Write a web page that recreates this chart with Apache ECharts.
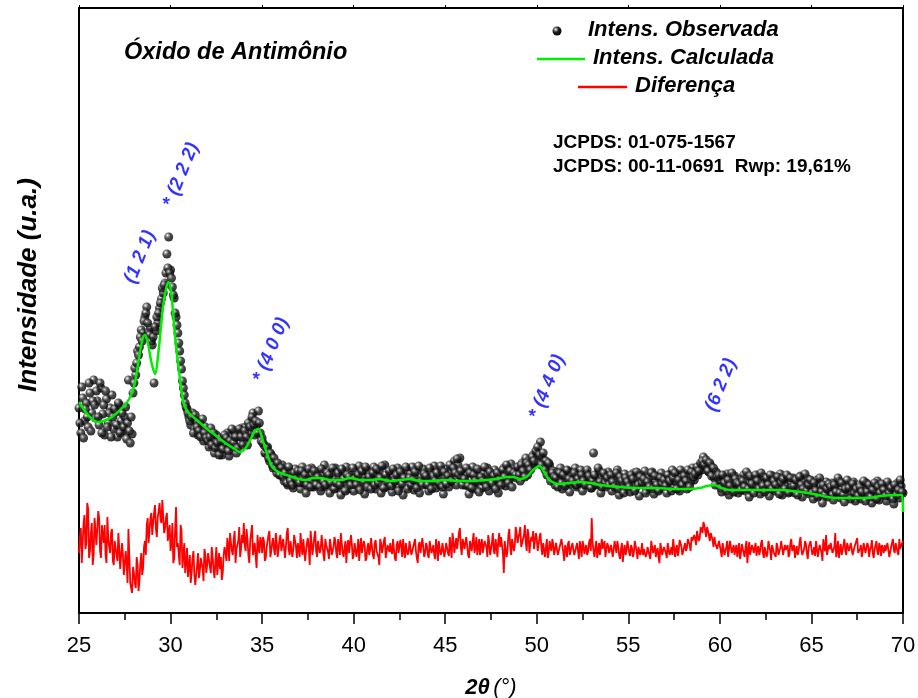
<!DOCTYPE html>
<html>
<head>
<meta charset="utf-8">
<script src="https://cdn.jsdelivr.net/npm/echarts@6/dist/echarts.min.js"></script>
<style>
html,body{margin:0;padding:0;background:#fff;}
#chart{width:918px;height:698px;}
</style>
</head>
<body>
<div id="chart"></div>
<script>
// 2θ grids: main points start at 25.00, mid points at 25.05, both step 0.1
const xStart = 25;
const xStartMid = 25.05;
const xStep = 0.1;

// Observed intensity (a.u.) at 25.0, 25.1, ... 70.0
const observed = [
205,180,215,192,210,186,220,200,233,195,
212,188,225,199,178,214,190,205,218,184,
201,176,208,192,182,196,174,233,170,179,
230,238,262,266,283,280,296,306,281,285,
268,230,282,290,305,314,320,330,359,376,
343,326,315,296,280,262,244,225,210,204,
196,188,200,184,192,178,190,183,172,186,
180,166,185,172,160,178,165,175,158,170,
168,180,157,175,166,182,160,176,170,185,
172,186,168,180,192,200,178,188,202,180,
175,168,160,166,152,158,145,150,140,146,
138,148,132,142,128,140,135,125,144,130,
138,124,146,130,120,140,132,145,126,136,
128,142,122,138,148,126,134,120,140,131,
145,125,136,118,140,130,146,124,133,138,
122,141,130,147,127,136,119,143,129,138,
132,146,124,137,142,120,135,148,126,133,
140,121,136,129,145,126,138,118,134,143,
127,139,146,123,131,140,120,136,144,129,
135,122,141,130,147,125,138,128,143,119,
136,144,126,139,131,152,128,148,155,135,
142,128,138,119,133,146,124,137,130,141,
125,139,131,145,122,136,128,143,134,120,
138,130,145,127,140,133,149,137,144,135,
146,132,150,140,155,138,152,145,158,149,
160,150,171,155,146,152,140,148,135,142,
128,140,133,145,124,136,130,142,121,138,
131,145,126,137,143,122,135,140,128,134,
125,160,136,129,142,120,133,138,126,141,
130,122,137,128,143,118,134,127,139,124,
136,121,131,140,125,133,117,138,129,142,
123,135,128,141,119,132,137,124,140,127,
134,120,138,129,143,125,131,139,122,136,
128,140,124,137,131,145,133,141,138,147,
143,156,146,150,141,147,139,135,141,130,
132,121,136,126,139,118,130,124,137,128,
120,134,127,138,122,131,116,135,125,133,
126,138,119,130,136,123,134,117,129,137,
122,131,125,139,118,133,127,136,121,130,
135,120,129,124,137,116,131,126,134,119,
128,114,125,133,118,127,110,124,131,116,
122,130,113,126,119,132,115,124,111,128,
117,126,120,131,112,123,128,114,125,119,
130,116,124,110,127,121,132,113,125,118,
123,112,128,117,126,109,122,130,115,127,
120
];

// Observed intensity (a.u.) at 25.05, 25.15, ... 69.95
const observedMid = [
190,226,175,204,196,230,182,212,208,222,
196,230,180,208,222,186,200,176,196,204,
188,210,180,200,186,206,190,182,196,220,
245,250,258,276,272,292,300,290,278,272,
276,286,296,300,310,325,328,340,345,340,
335,318,300,288,270,252,232,218,206,200,
192,196,180,198,186,182,176,194,180,175,
172,176,168,180,165,170,158,172,164,178,
175,162,172,184,170,176,165,184,176,168,
182,176,190,186,196,188,192,180,190,172,
170,160,165,155,160,148,155,145,150,138,
145,136,140,130,146,132,128,140,134,142,
130,142,134,138,128,144,126,138,142,128,
136,126,144,132,128,140,138,130,145,124,
130,140,128,144,134,122,138,136,128,145,
134,128,138,123,142,131,146,126,136,124,
140,128,144,130,135,147,125,138,131,142,
127,144,132,138,122,141,129,135,146,124,
135,128,133,141,125,147,131,128,139,137,
128,145,124,137,132,140,130,147,126,141,
129,137,148,132,145,140,154,138,142,128,
134,145,127,140,125,138,132,144,121,136,
132,146,126,138,141,130,137,124,140,133,
128,143,136,148,130,142,126,140,138,146,
138,148,142,136,150,148,143,156,152,162,
166,158,148,160,143,138,150,132,140,136,
135,126,140,130,138,127,143,134,129,132,
140,128,134,130,138,132,128,143,137,125,
132,138,128,145,131,126,140,130,135,128,
138,131,126,140,124,136,132,120,135,131,
126,138,134,122,141,128,136,130,134,120,
131,126,140,124,137,128,122,135,129,133,
127,138,132,122,135,140,124,133,143,128,
137,132,143,126,141,136,139,146,142,150,
152,148,153,142,150,137,145,128,136,138,
125,138,130,122,133,127,140,121,134,130,
129,123,132,126,141,124,137,129,120,138,
132,124,140,127,121,135,128,138,124,132,
128,136,119,130,134,124,138,120,135,126,
127,133,118,136,128,124,139,122,128,133,
120,130,122,116,135,121,128,118,124,129,
126,118,128,121,135,120,130,118,124,133,
125,114,129,120,124,117,126,121,132,112,
121,128,116,123,130,114,126,120,129,123,
117,131,120,125,114,128,118,123,133,121
];

// Difference (a.u.) at 25.0, 25.1, ... 70.0
const difference = [
60,85,52,98,70,104,62,90,58,82,
66,95,55,78,88,50,74,60,84,48,
70,52,64,45,58,40,50,84,30,20,
40,25,48,32,60,45,72,88,70,95,
78,100,84,96,110,90,112,85,100,80,
62,90,55,106,70,48,82,58,40,65,
45,30,55,38,26,60,42,50,32,58,
48,62,40,56,35,66,50,44,33,58,
60,75,52,70,58,82,64,72,56,78,
90,62,74,50,80,58,70,45,66,76,
60,72,55,68,82,62,75,58,70,64,
78,60,72,66,85,58,70,63,76,55,
68,80,58,72,62,75,48,70,60,82,
56,70,64,76,52,68,61,74,58,66,
72,55,67,80,60,65,50,73,62,69,
58,71,63,52,75,60,68,55,70,64,
66,54,73,61,48,69,62,76,57,65,
70,59,64,52,72,60,67,74,55,63,
61,73,56,68,62,50,71,58,66,60,
67,55,70,63,58,74,52,65,61,69,
62,72,57,66,80,60,75,64,85,58,
70,63,78,55,68,72,60,76,65,58,
74,62,69,56,71,64,80,59,67,73,
66,78,40,70,62,84,58,75,68,80,
72,86,64,78,70,84,60,76,82,66,
74,62,80,58,70,66,55,72,62,68,
60,71,56,66,73,52,64,69,58,67,
63,57,70,54,65,72,59,68,61,74,
95,62,66,55,70,60,64,72,58,67,
61,69,55,66,72,58,64,51,68,62,
70,57,65,60,73,54,67,62,58,66,
59,68,54,71,62,56,65,50,69,63,
67,55,70,61,58,72,64,57,73,66,
60,70,65,74,62,72,78,68,80,75,
84,91,82,86,78,80,73,76,68,62,
70,56,64,60,72,55,66,62,58,68,
63,54,69,60,66,50,71,58,65,61,
57,67,62,73,55,64,60,70,53,66,
62,70,58,65,72,56,63,68,59,74,
60,55,67,62,76,58,64,69,54,66,
70,61,57,73,63,68,52,66,78,60,
64,72,58,80,62,55,69,63,74,58,
66,60,71,56,64,75,58,68,62,70,
59,67,63,73,55,66,61,70,57,64,
68,60,72,58,66,63,70,61,74,67,
72
];

// Difference (a.u.) at 25.05, 25.15, ... 69.95
const differenceMid = [
75,50,90,64,110,55,80,48,95,68,
102,62,88,70,58,96,66,80,52,72,
58,80,44,70,38,62,30,56,25,46,
30,56,22,50,38,66,58,95,82,100,
90,108,76,102,94,113,80,95,72,88,
70,50,84,66,58,88,45,70,52,36,
58,40,62,28,48,35,55,45,64,40,
60,46,66,42,52,38,60,56,40,66,
52,68,80,62,74,50,66,86,64,70,
68,84,58,72,88,64,56,78,60,72,
76,52,66,78,56,70,64,80,56,74,
62,74,55,80,64,72,56,78,66,70,
56,66,74,52,70,64,82,58,76,62,
72,60,78,58,74,66,54,68,62,76,
60,74,58,70,56,72,66,60,78,54,
70,56,74,66,60,72,52,66,58,75,
58,70,62,56,74,60,72,55,68,61,
62,74,55,68,60,73,56,62,70,58,
72,58,66,74,55,68,60,75,56,70,
58,72,60,68,54,66,72,58,70,56,
70,60,76,55,72,68,64,80,66,74,
64,76,58,72,62,80,66,58,74,68,
60,72,66,78,58,70,62,74,56,80,
76,60,72,56,78,66,74,62,86,70,
80,66,74,88,62,78,70,72,64,80,
62,76,66,70,56,74,60,66,74,58,
70,58,66,74,60,68,56,72,62,70,
58,66,62,72,56,68,64,58,70,62,
70,56,72,62,58,74,66,56,70,60,
68,56,72,60,66,54,70,62,58,72,
60,68,56,72,62,66,58,70,64,56,
66,58,72,60,68,62,56,70,58,66,
60,70,58,66,74,56,68,62,70,58,
66,62,74,68,76,70,74,82,72,86,
80,88,76,84,72,78,66,70,64,72,
62,70,58,66,56,72,60,68,64,56,
70,60,64,56,72,62,58,68,60,70,
64,58,70,60,66,56,72,62,68,60,
56,66,62,72,58,68,64,56,70,62,
68,62,58,70,64,56,72,60,66,72,
58,66,72,56,68,60,74,62,58,68,
70,60,66,56,72,64,58,68,62,70,
62,70,58,66,72,60,64,56,70,60,
70,56,66,60,64,72,58,66,68,60,
62,70,56,66,74,60,68,58,64,70
];

// Calculated pattern
const calcX = [25.0,25.5,26.0,26.5,27.0,27.5,27.8,28.05,28.3,28.5,28.6,28.75,28.95,29.15,29.35,29.6,29.8,29.9,30.05,30.25,30.5,30.7,30.95,31.5,32.0,32.5,33.0,33.5,33.8,34.1,34.35,34.6,34.8,35.0,35.15,35.35,35.55,35.8,36.0,36.5,37.0,37.35,37.8,38.2,38.7,39.3,39.8,40.4,41.0,41.4,42.0,42.5,43.1,43.6,44.3,45.0,45.8,46.5,47.2,47.8,48.3,48.7,49.1,49.5,49.8,50.15,50.4,50.7,51.2,51.8,52.35,52.9,53.5,54.5,55.6,56.5,57.5,58.4,58.9,59.3,59.7,60.1,60.55,61.5,62.2,63.3,64.0,64.8,65.4,65.85,66.5,67.3,68.0,68.8,69.7,69.95,70.0];
const calcY = [211,198,191,193,199,208,216,230,258,276,278,271,251,239,263,308,328,331,318,276,236,211,201,192,184,177,170,164,161,165,173,182,184,175,166,155,146,142,140,137,134,133,135,135,133,133,135,133,133,134,132,133,134,132,132,133,132,132,133,134,136,136,134,137,143,147,141,133,129,130,131,130,128,126,125,125,124,124,125,127,128,125,123,123,123,123,122,120,118,116,115,115,115,117,118,118,101];

// Miller-index annotations
const peakX = [28.33, 30.57, 35.49, 50.56, 60.06];
const peakY = [356, 438, 263, 226, 228];
const peakLabels = ['(1 2 1)', '* (2 2 2)', '* (4 0 0)', '* (4 4 0)', '(6 2 2)'];

const xTicks = [25,30,35,40,45,50,55,60,65,70];

const FONT = '"Liberation Sans", Arial, Helvetica, sans-serif';

const r2 = (v) => Math.round(v * 100) / 100;
const obsData = [];
observed.forEach((v, i) => obsData.push([r2(xStart + i * xStep), v]));
observedMid.forEach((v, i) => obsData.push([r2(xStartMid + i * xStep), v]));
const difData = [];
difference.forEach((v, i) => {
  difData.push([r2(xStart + i * xStep), v]);
  if (i < differenceMid.length) difData.push([r2(xStartMid + i * xStep), differenceMid[i]]);
});
const calcData = calcX.map((x, i) => [x, calcY[i]]);
const peakData = peakX.map((x, i) => ({ value: [x, peakY[i]], name: peakLabels[i] }));

const sphere = {
  type: 'radial', x: 0.36, y: 0.32, r: 0.7,
  colorStops: [
    { offset: 0, color: '#ffffff' },
    { offset: 0.18, color: '#9a9a9a' },
    { offset: 0.45, color: '#222222' },
    { offset: 1, color: '#000000' }
  ]
};

const chart = echarts.init(document.getElementById('chart'), null, { renderer: 'canvas' });

const option = {
  animation: false,
  backgroundColor: '#ffffff',
  textStyle: { fontFamily: FONT },
  grid: { left: 79, right: 15, top: 8, bottom: 85, containLabel: false, outerBoundsMode: 'none' },
  xAxis: [{
    type: 'value', min: 25, max: 70, interval: 5, position: 'bottom',
    axisLine: { show: true, onZero: false, lineStyle: { color: '#000', width: 2 } },
    axisTick: { show: true, inside: false, length: 11, lineStyle: { color: '#000', width: 1.5 } },
    minorTick: { show: true, splitNumber: 2, length: 7, lineStyle: { color: '#000', width: 1.5 } },
    axisLabel: { show: true, margin: 22, color: '#000', fontSize: 22, fontFamily: FONT,
      formatter: (v) => xTicks.includes(v) ? String(v) : '' },
    splitLine: { show: false },
    name: '{a|2θ} {b|(°)}', nameLocation: 'middle', nameGap: 64,
    nameTextStyle: { rich: {
      a: { fontSize: 22, fontWeight: 'bold', fontStyle: 'italic', color: '#000', fontFamily: FONT },
      b: { fontSize: 22, fontStyle: 'italic', color: '#000', fontFamily: FONT }
    } }
  }, {
    type: 'value', min: 25, max: 70, interval: 5, position: 'top',
    axisLine: { show: true, onZero: false, lineStyle: { color: '#000', width: 2 } },
    axisTick: { show: true, inside: false, length: 3, lineStyle: { color: '#000', width: 1 } },
    axisLabel: { show: false }, splitLine: { show: false }
  }],
  yAxis: [{
    type: 'value', min: 0, max: 605, position: 'left',
    axisLine: { show: true, onZero: false, lineStyle: { color: '#000', width: 2 } },
    axisTick: { show: false }, axisLabel: { show: false }, splitLine: { show: false }
  }, {
    type: 'value', min: 0, max: 605, position: 'right',
    axisLine: { show: true, onZero: false, lineStyle: { color: '#000', width: 2 } },
    axisTick: { show: false }, axisLabel: { show: false }, splitLine: { show: false }
  }],
  series: [
    {
      name: 'Intens. Observada', type: 'scatter', data: obsData,
      symbol: 'circle', symbolSize: 9, z: 2, large: false,
      itemStyle: { color: sphere }
    },
    {
      name: 'Intens. Calculada', type: 'line', data: calcData,
      showSymbol: false, smooth: 0.3, z: 3,
      lineStyle: { color: '#00ee00', width: 2.5 }
    },
    {
      name: 'Diferença', type: 'line', data: difData,
      showSymbol: false, z: 2,
      lineStyle: { color: '#ff0000', width: 1.8 }
    },
    {
      name: 'hkl', type: 'scatter', data: peakData, symbolSize: 0, z: 4,
      label: {
        show: true, position: 'inside', rotate: 68, formatter: (p) => p.name,
        color: '#0000ff', fontSize: 19, fontWeight: 'bold', fontStyle: 'italic', fontFamily: FONT
      }
    }
  ],
  graphic: [
    { type: 'text', x: 29, y: 285, rotation: Math.PI / 2,
      style: { text: 'Intensidade (u.a.)', fill: '#000', font: 'italic bold 26px ' + FONT,
        textAlign: 'center', textVerticalAlign: 'middle' } },
    { type: 'text', left: 124, top: 41, style: { text: 'Óxido de Antimônio', fill: '#000',
      font: 'italic bold 23.5px ' + FONT } },
    { type: 'circle', shape: { cx: 557, cy: 31, r: 4.5 }, style: { fill: sphere } },
    { type: 'text', left: 588, top: 19, style: { text: 'Intens. Observada', fill: '#000',
      font: 'italic bold 22px ' + FONT } },
    { type: 'line', shape: { x1: 537, y1: 59, x2: 585, y2: 59 }, style: { stroke: '#00ee00', lineWidth: 2.5 } },
    { type: 'text', left: 593, top: 47, style: { text: 'Intens. Calculada', fill: '#000',
      font: 'italic bold 22px ' + FONT } },
    { type: 'line', shape: { x1: 578, y1: 87, x2: 627, y2: 87 }, style: { stroke: '#ff0000', lineWidth: 2.5 } },
    { type: 'text', left: 635, top: 75, style: { text: 'Diferença', fill: '#000',
      font: 'italic bold 22px ' + FONT } },
    { type: 'text', left: 553, top: 133, style: { text: 'JCPDS: 01-075-1567', fill: '#000',
      font: 'bold 19px ' + FONT } },
    { type: 'text', left: 553, top: 157, style: { text: 'JCPDS: 00-11-0691  Rwp: 19,61%', fill: '#000',
      font: 'bold 19px ' + FONT } }
  ]
};

chart.setOption(option);
</script>
</body>
</html>
